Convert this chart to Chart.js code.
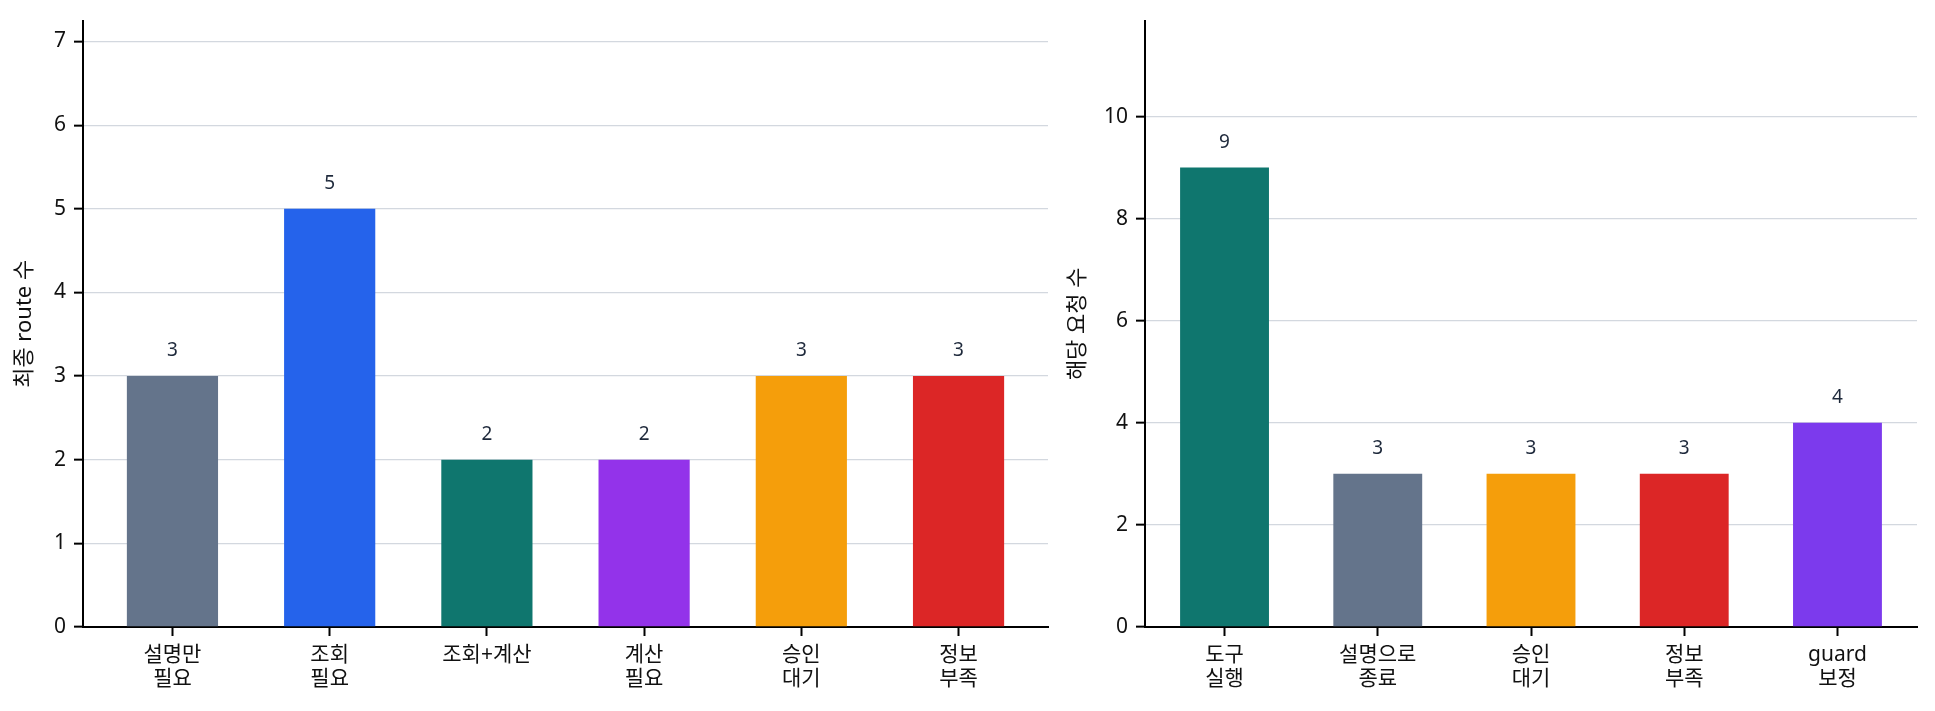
<!DOCTYPE html>
<html lang="ko">
<head>
<meta charset="utf-8">
<title>route 분포</title>
<script src="https://cdn.jsdelivr.net/npm/chart.js@4.4.1/dist/chart.umd.min.js"></script>
<style>
  html, body { margin: 0; padding: 0; background: #fff; }
  #wrap { position: relative; width: 1935px; height: 711px; }
  #leftBox { position: absolute; left: 0; top: 0; width: 1060px; height: 711px; }
  #rightBox { position: absolute; left: 1060px; top: 0; width: 875px; height: 711px; }
</style>
</head>
<body>
<div id="wrap">
  <div id="leftBox"><canvas id="chartLeft"></canvas></div>
  <div id="rightBox"><canvas id="chartRight"></canvas></div>
</div>
<script>
// 왼쪽: 최종 route 분포
const leftLabels = [['설명만', '필요'], ['조회', '필요'], ['조회+계산'], ['계산', '필요'], ['승인', '대기'], ['정보', '부족']];
const leftValues = [3, 5, 2, 2, 3, 3];
const leftColors = ['#64748b', '#2563eb', '#0f766e', '#9333ea', '#f59e0b', '#dc2626'];
const leftTicks = [0, 1, 2, 3, 4, 5, 6, 7];
const leftYMax = 7.25;

// 오른쪽: 요청 처리 결과
const rightLabels = [['도구', '실행'], ['설명으로', '종료'], ['승인', '대기'], ['정보', '부족'], ['guard', '보정']];
const rightValues = [9, 3, 3, 3, 4];
const rightColors = ['#0f766e', '#64748b', '#f59e0b', '#dc2626', '#7c3aed'];
const rightTicks = [0, 2, 4, 6, 8, 10];
const rightYMax = 11.88;

const FONT = "'Noto Sans', 'Noto Sans CJK KR', sans-serif";
const GRID = '#d3d8df';

// 막대 위 값 표시
const valueLabels = {
  id: 'valueLabels',
  afterDatasetsDraw(chart) {
    const ctx = chart.ctx;
    const meta = chart.getDatasetMeta(0);
    ctx.save();
    ctx.font = `19px ${FONT}`;
    ctx.fillStyle = '#1e293b';
    ctx.textAlign = 'center';
    ctx.textBaseline = 'middle';
    meta.data.forEach((bar, i) => {
      ctx.fillText(String(chart.data.datasets[0].data[i].y), bar.x, bar.y - 25);
    });
    ctx.restore();
  }
};

function makeChart(canvasId, labels, values, colors, yTicks, yMax, yTitle, opts) {
  const n = values.length;
  const margin = (n - 1 + 0.58) * 0.05 + 0.29;
  new Chart(document.getElementById(canvasId), {
    type: 'bar',
    data: {
      datasets: [{
        data: values.map((v, i) => ({ x: i, y: v })),
        backgroundColor: colors,
        borderWidth: 0,
        categoryPercentage: 1,
        barPercentage: 0.58
      }]
    },
    options: {
      responsive: true,
      maintainAspectRatio: false,
      animation: false,
      layout: { padding: { top: 17, right: opts.right, bottom: 0, left: 0 } },
      plugins: { legend: { display: false }, tooltip: { enabled: false } },
      scales: {
        x: {
          type: 'linear',
          min: -margin,
          max: n - 1 + margin,
          offset: false,
          z: 1,
          afterBuildTicks: (scale) => { scale.ticks = labels.map((_, i) => ({ value: i })); },
          afterFit: (scale) => { scale.height = 84; },
          grid: { display: true, offset: false, drawOnChartArea: false, drawTicks: true, tickLength: 9, tickColor: '#000', tickWidth: 2 },
          border: { display: true, color: '#000', width: 2 },
          ticks: {
            autoSkip: false,
            maxRotation: 0,
            padding: 7,
            color: '#111',
            font: { family: FONT, size: 21, lineHeight: 1.14 },
            callback: (v) => labels[v]
          }
        },
        y: {
          min: 0,
          max: yMax,
          afterBuildTicks: (scale) => { scale.ticks = yTicks.map(v => ({ value: v })); },
          afterFit: (scale) => { scale.width = opts.axisW; },
          grid: { color: GRID, lineWidth: 1.3, drawTicks: true, tickLength: 9, tickColor: '#000', tickWidth: 2 },
          border: { display: true, color: '#000', width: 2 },
          ticks: {
            padding: 8,
            color: '#111',
            font: { family: FONT, size: 21 },
            callback: (v) => String(v)
          },
          title: {
            display: true,
            text: yTitle,
            color: '#111',
            font: { family: FONT, size: 22 },
            padding: { top: opts.titleTop, bottom: 0 }
          }
        }
      }
    },
    plugins: [valueLabels]
  });
}

makeChart('chartLeft', leftLabels, leftValues, leftColors, leftTicks, leftYMax, '최종 route 수',
  { right: 12, axisW: 83, titleTop: 12 });
makeChart('chartRight', rightLabels, rightValues, rightColors, rightTicks, rightYMax, '해당 요청 수',
  { right: 18, axisW: 85, titleTop: 5 });
</script>
</body>
</html>
